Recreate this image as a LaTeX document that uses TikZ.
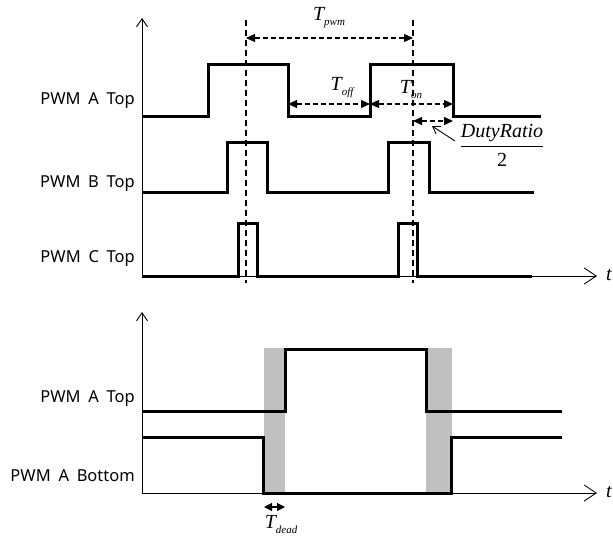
\documentclass[tikz,border=0pt]{standalone}
\usepackage{fontspec}
\setmainfont{Liberation Serif}
\newfontfamily\labfont[WordSpace=1.8]{Noto Sans}
\usetikzlibrary{arrows.meta}
\definecolor{deadgray}{RGB}{192,192,192}
\newcommand\Tsub[1]{T\raisebox{-5pt}{\fontsize{11}{12}\selectfont #1}}
\begin{document}
\begin{tikzpicture}[x=1pt,y=-1pt,
  sig/.style={line width=3pt, line join=miter},
  axis/.style={line width=0.9pt, -{Straight Barb[length=12pt,width=16pt]}},
  yaxis/.style={line width=0.9pt, -{Straight Barb[length=8pt,width=11pt]}},
  guide/.style={line width=1.1pt, dash pattern=on 6pt off 4pt},
  dim/.style={line width=1.1pt, dash pattern=on 5pt off 3pt, {Triangle[length=9pt,width=8pt]}-{Triangle[length=9pt,width=8pt]}},
  lbl/.style={font=\labfont\fontsize{16.5}{18}\selectfont, anchor=east, inner sep=0pt},
  tl/.style={font=\fontsize{20}{22}\selectfont\itshape, inner sep=0pt}]
\useasboundingbox (0,0) rectangle (613,543);

% ---------- top panel ----------
\coordinate (o1) at (142,276);
\coordinate (y1) at (142,18);
\coordinate (x1) at (597,276);
\draw[yaxis] (o1) -- (y1);
\draw[axis] (o1) -- (x1);
\node[tl] (t1) at (609,275) {t};

\node[lbl] (la) at (135,101) {PWM A Top};
\node[lbl] (lb) at (135,184) {PWM B Top};
\node[lbl] (lc) at (135,259) {PWM C Top};

\draw[sig] (142,116) -- (208,116) -- (208,65) -- (288,65) -- (288,116) -- (370,116)
  -- (370,65) -- (453,65) -- (453,116) -- (541,116);
\draw[sig] (142,192) -- (227,192) -- (227,142) -- (267,142) -- (267,192) -- (388,192)
  -- (388,142) -- (429,142) -- (429,192) -- (534,192);
\draw[sig] (142,276) -- (238,276) -- (238,223) -- (257,223) -- (257,276) -- (398,276)
  -- (398,223) -- (417,223) -- (417,276) -- (532,276);

\coordinate (g1t) at (246,20); \coordinate (g1b) at (246,283);
\coordinate (g2t) at (413,20); \coordinate (g2b) at (413,283);
\draw[guide] (g1t) -- (g1b);
\draw[guide] (g2t) -- (g2b);

\coordinate (p1) at (246,38); \coordinate (p2) at (413,38);
\draw[dim] (p1) -- (p2);
\node[tl] (tpwm) at (329,18) {\Tsub{pwm}};

\coordinate (f1) at (288,104); \coordinate (f2) at (370,104);
\draw[dim] (f1) -- (f2);
\node[tl] (toff) at (342,88) {\Tsub{off}};

\coordinate (n1) at (370,104); \coordinate (n2) at (453,104);
\draw[dim] (n1) -- (n2);
\node[tl] (ton) at (411,90) {\Tsub{on}};

\coordinate (d1) at (413,121); \coordinate (d2) at (453,121);
\draw[dim] (d1) -- (d2);
\node[font=\fontsize{20}{22}\selectfont, inner sep=0pt] (dr) at (502,148)
  {\begin{tabular}{@{}c@{}}\itshape DutyRatio\\[1pt]\hline\rule{0pt}{21pt}2\end{tabular}};
\coordinate (drp) at (432,126);
\draw[line width=0.9pt, -{Straight Barb[length=7pt,width=9pt]}] (455,141) -- (drp);

% ---------- bottom panel ----------
\fill[deadgray] (264,348) rectangle (285,493);
\fill[deadgray] (426,348) rectangle (452,493);

\coordinate (o2) at (142,493);
\coordinate (y2) at (142,312);
\coordinate (x2) at (597,493);
\draw[yaxis] (o2) -- (y2);
\draw[axis] (o2) -- (x2);
\node[tl] (t2) at (609,492) {t};

\node[lbl] (la2) at (135,399) {PWM A Top};
\node[lbl] (lab2) at (135,476) {PWM A Bottom};

\draw[sig] (142,411) -- (285,411) -- (285,349) -- (426,349) -- (426,411) -- (562,411);
\draw[sig] (142,437) -- (263,437) -- (263,493) -- (451,493) -- (451,437) -- (562,437);

\coordinate (e1) at (264,507); \coordinate (e2) at (285,507);
\draw[line width=1.1pt, {Triangle[length=8pt,width=8pt]}-{Triangle[length=8pt,width=8pt]}] (e1) -- (e2);
\node[tl] (tdead) at (281,525) {\Tsub{dead}};
\end{tikzpicture}
\end{document}
